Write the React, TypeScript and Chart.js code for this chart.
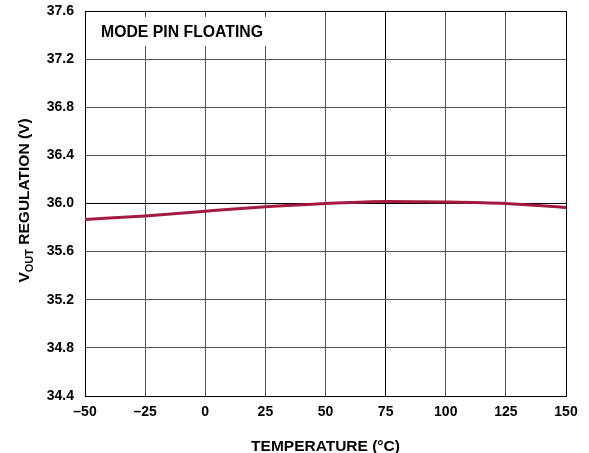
import React, { useEffect, useRef } from "react";
import { Chart, registerables } from "chart.js";

Chart.register(...registerables);

const temperatures = [-50, -25, 0, 25, 50, 75, 100, 125, 150];
const voutRegulation = [35.867, 35.897, 35.936, 35.972, 36.0, 36.017, 36.013, 36.0, 35.967];
const xTickValues = [-50, -25, 0, 25, 50, 75, 100, 125, 150];
const yTickValues = [34.4, 34.8, 35.2, 35.6, 36.0, 36.4, 36.8, 37.2, 37.6];
const annotationText = "MODE PIN FLOATING";
const xTitle = "TEMPERATURE (°C)";

const FONT = "'Liberation Sans', Arial, Helvetica, sans-serif";

const titlesPlugin = {
  id: "titles",
  beforeDatasetsDraw(chart: any) {
    const { ctx, chartArea } = chart;
    ctx.save();
    ctx.font = `bold 15.8px ${FONT}`;
    const w = ctx.measureText(annotationText).width;
    ctx.fillStyle = "#fff";
    ctx.fillRect(chartArea.left + 10, chartArea.top + 6, w + 12, 29);
    ctx.fillStyle = "#000";
    ctx.textBaseline = "alphabetic";
    ctx.textAlign = "left";
    ctx.fillText(annotationText, chartArea.left + 16, chartArea.top + 25.5);
    ctx.restore();
  },
  afterDraw(chart: any) {
    const { ctx, chartArea } = chart;
    ctx.save();
    ctx.fillStyle = "#000";
    ctx.font = `bold 15.5px ${FONT}`;
    ctx.textAlign = "center";
    ctx.textBaseline = "alphabetic";
    ctx.fillText(xTitle, (chartArea.left + chartArea.right) / 2, 451);
    const big = `bold 15.5px ${FONT}`;
    const small = `bold 11px ${FONT}`;
    ctx.font = big;
    const wV = ctx.measureText("V").width;
    const wRest = ctx.measureText(" REGULATION (V)").width;
    ctx.font = small;
    const wSub = ctx.measureText("OUT").width;
    const total = wV + wSub + wRest;
    ctx.translate(29, (chartArea.top + chartArea.bottom) / 2 - 3);
    ctx.rotate(-Math.PI / 2);
    ctx.textAlign = "left";
    let x = -total / 2;
    ctx.font = big;
    ctx.fillText("V", x, 0);
    x += wV;
    ctx.font = small;
    ctx.fillText("OUT", x, 3.5);
    x += wSub;
    ctx.font = big;
    ctx.fillText(" REGULATION (V)", x, 0);
    ctx.restore();
  },
};

export default function App() {
  const ref = useRef<HTMLCanvasElement | null>(null);
  useEffect(() => {
    if (!ref.current) return;
    const chart = new Chart(ref.current, {
      type: "line",
      data: {
        datasets: [
          {
            data: temperatures.map((t, i) => ({ x: t, y: voutRegulation[i] })),
            borderColor: "#A31B43",
            borderWidth: 3,
            pointRadius: 0,
            tension: 0.4,
            cubicInterpolationMode: "monotone",
            fill: false,
          },
        ],
      },
      options: {
        animation: false,
        responsive: true,
        maintainAspectRatio: false,
        layout: { padding: { left: 0, top: 11, right: 23, bottom: 0 } },
        plugins: { legend: { display: false }, tooltip: { enabled: false } },
        scales: {
          x: {
            type: "linear",
            min: -50,
            max: 150,
            afterBuildTicks: (s: any) => {
              s.ticks = xTickValues.map((v) => ({ value: v }));
            },
            afterFit: (s: any) => {
              s.height = 57;
              s.paddingLeft = 0;
              s.paddingRight = 0;
            },
            grid: {
              drawTicks: false,
              color: (c: any) =>
                c.tick && (c.tick.value === 75 || c.tick.value === 150) ? "#000" : "#555",
              lineWidth: 1,
            },
            border: { display: true, color: "#000", width: 1 },
            ticks: {
              color: "#000",
              padding: 8,
              maxRotation: 0,
              font: { family: FONT, size: 14, weight: "bold" },
              callback: (v: any) => String(v).replace("-", "–"),
            },
          },
          y: {
            type: "linear",
            min: 34.4,
            max: 37.6,
            afterBuildTicks: (s: any) => {
              s.ticks = yTickValues.map((v) => ({ value: v }));
            },
            afterFit: (s: any) => {
              s.width = 85;
              s.paddingTop = 0;
              s.paddingBottom = 0;
            },
            grid: {
              drawTicks: false,
              color: (c: any) =>
                c.tick && (Math.abs(c.tick.value - 36.0) < 1e-6 || Math.abs(c.tick.value - 37.6) < 1e-6)
                  ? "#000"
                  : "#555",
              lineWidth: 1,
            },
            border: { display: true, color: "#000", width: 1 },
            ticks: {
              color: "#000",
              padding: 11,
              font: { family: FONT, size: 14, weight: "bold" },
              callback: (v: any) => Number(v).toFixed(1),
            },
          },
        },
      },
      plugins: [titlesPlugin],
    } as any);
    return () => chart.destroy();
  }, []);
  return (
    <div style={{ position: "fixed", left: 0, top: 0, width: 589, height: 453, background: "#fff" }}>
      <canvas ref={ref} />
    </div>
  );
}
